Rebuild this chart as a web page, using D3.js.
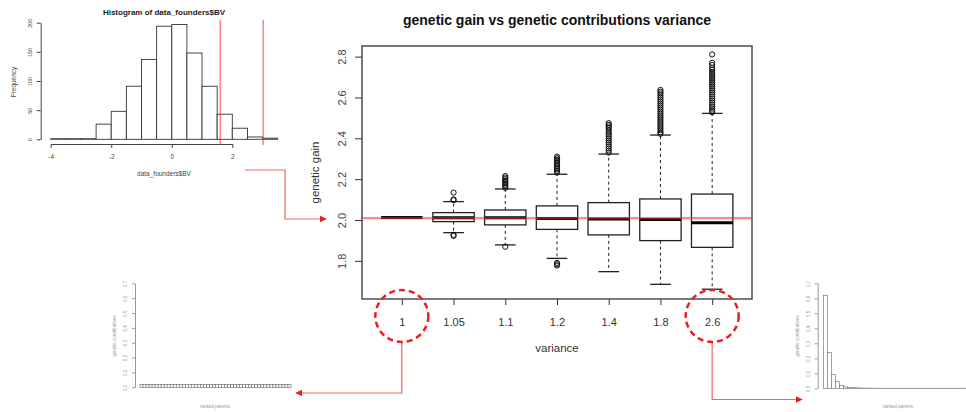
<!DOCTYPE html>
<meta charset="utf-8">
<html>
<head>
<script src="https://d3js.org/d3.v7.min.js" charset="utf-8"></script>
<style type="text/css">
  body { margin: 0; background: #fff; }
  svg text { font-family: "Liberation Sans", Arial, sans-serif; }
</style>
</head>
<body>
<div id="chart"></div>
<script type="text/javascript">

// ---- main boxplot: genetic gain by variance of genetic contributions ----
var variances = ["1", "1.05", "1.1", "1.2", "1.4", "1.8", "2.6"];
var q1s      = [2.012, 1.992, 1.976, 1.954, 1.927, 1.899, 1.866];
var medians  = [2.012, 2.011, 2.011, 2.007, 2.005, 2.002, 1.987];
var q3s      = [2.012, 2.036, 2.049, 2.069, 2.085, 2.103, 2.127];
var whiskLo  = [2.012, 1.938, 1.878, 1.812, 1.747, 1.685, 1.661];
var whiskHi  = [2.012, 2.090, 2.152, 2.224, 2.323, 2.416, 2.522];
var outliers = [
  [],
  [2.134, 2.101, 2.097, 1.927, 1.922],
  [2.215, 2.208, 2.200, 2.193, 2.186, 2.179, 2.172, 2.165, 2.158, 1.869],
  [2.310, 2.302, 2.295, 2.288, 2.280, 2.272, 2.264, 2.256, 2.248, 2.240, 2.232, 1.790, 1.783, 1.777],
  [2.474, 2.466, 2.458, 2.450, 2.440, 2.430, 2.420, 2.410, 2.400, 2.390, 2.380, 2.370, 2.360, 2.350, 2.340, 2.330],
  [2.637, 2.628, 2.620, 2.610, 2.600, 2.590, 2.580, 2.570, 2.560, 2.550, 2.540, 2.530, 2.520, 2.510,
   2.500, 2.490, 2.480, 2.470, 2.460, 2.450, 2.440, 2.430, 2.422],
  [2.811, 2.770, 2.759, 2.744, 2.735, 2.725, 2.715, 2.705, 2.695, 2.685, 2.675, 2.665, 2.655, 2.645,
   2.635, 2.625, 2.615, 2.605, 2.595, 2.585, 2.575, 2.565, 2.555, 2.545, 2.535, 2.528]
];
var yTicks = [1.8, 2.0, 2.2, 2.4, 2.6, 2.8];
var refGain = 2.009;

// ---- histogram of founders' breeding values ----
var histBreaks = [-4, -3.5, -3, -2.5, -2, -1.5, -1, -0.5, 0, 0.5, 1, 1.5, 2, 2.5, 3, 3.5];
var histCounts = [1, 1, 1, 26, 48, 91, 137, 194, 197, 148, 91, 43, 19, 4, 2];
var histXTicks = [-4, -2, 0, 2];
var histYTicks = [0, 50, 100, 150, 200];
var histCutoffs = [1.6, 3.02];

// ---- genetic contributions of ranked parents ----
var contribFlat = [0.02, 0.02, 0.02, 0.02, 0.02, 0.02, 0.02, 0.02, 0.02, 0.02,
                   0.02, 0.02, 0.02, 0.02, 0.02, 0.02, 0.02, 0.02, 0.02, 0.02,
                   0.02, 0.02, 0.02, 0.02, 0.02, 0.02, 0.02, 0.02, 0.02, 0.02,
                   0.02, 0.02, 0.02, 0.02, 0.02, 0.02, 0.02, 0.02, 0.02, 0.02,
                   0.02, 0.02, 0.02, 0.02, 0.02, 0.02, 0.02, 0.02, 0.02, 0.02];
var contribSkew = [0.62, 0.24, 0.093, 0.044, 0.02, 0.01, 0.006, 0.004, 0.003, 0.002,
                   0.001, 0.001, 0.001, 0, 0, 0, 0, 0, 0, 0,
                   0, 0, 0, 0, 0, 0, 0, 0, 0, 0,
                   0, 0, 0, 0, 0, 0, 0, 0, 0, 0];
var contribTicks = [0, 0.1, 0.2, 0.3, 0.4, 0.5, 0.6, 0.7];

var width = 966, height = 412;
var red = "#ee1c1c";

var svg = d3.select("#chart").append("svg")
    .attr("width", width)
    .attr("height", height);

svg.append("defs").append("marker")
    .attr("id", "arrow")
    .attr("viewBox", "0 0 10 10")
    .attr("refX", 9).attr("refY", 5)
    .attr("markerWidth", 7).attr("markerHeight", 7)
    .attr("markerUnits", "userSpaceOnUse")
    .attr("orient", "auto")
  .append("path")
    .attr("d", "M0,0 L10,5 L0,10 z")
    .attr("fill", red);

// ================= main boxplot =================
var box = { left: 362, right: 752, top: 46, bottom: 299 };

var x = d3.scalePoint()
    .domain(variances)
    .range([box.left, box.right])
    .padding(0.77);

var y = d3.scaleLinear()
    .domain([1.6131, 2.852])
    .range([box.bottom, box.top]);

var boxW = x.step() * 0.8;

var main = svg.append("g");

var xAxis = main.append("g")
    .attr("transform", "translate(0," + box.bottom + ")")
    .call(d3.axisBottom(x).tickSize(6).tickSizeOuter(0));
xAxis.select(".domain").remove();
xAxis.selectAll("line").attr("stroke", "#333");
xAxis.selectAll("text")
    .attr("y", 26.5).attr("dy", 0)
    .attr("fill", "#333")
    .style("font-size", "11px");

var yAxis = main.append("g")
    .attr("transform", "translate(" + box.left + ",0)")
    .call(d3.axisLeft(y).tickValues(yTicks).tickFormat(d3.format(".1f")).tickSize(7));
yAxis.select(".domain").remove();
yAxis.selectAll("line").attr("stroke", "#333");
yAxis.selectAll("text")
    .attr("x", 0).attr("dy", 0)
    .attr("text-anchor", "middle")
    .attr("transform", "translate(-16,0) rotate(-90)")
    .attr("fill", "#444")
    .style("font-size", "11px");

var groups = main.selectAll(".bx")
    .data(variances)
    .enter().append("g")
    .attr("class", "bx");

// whiskers (dashed)
groups.append("line")
    .attr("x1", function(d) { return x(d); })
    .attr("x2", function(d) { return x(d); })
    .attr("y1", function(d, i) { return y(q3s[i]); })
    .attr("y2", function(d, i) { return y(whiskHi[i]); })
    .attr("stroke", "#222").attr("stroke-dasharray", "3,3");
groups.append("line")
    .attr("x1", function(d) { return x(d); })
    .attr("x2", function(d) { return x(d); })
    .attr("y1", function(d, i) { return y(q1s[i]); })
    .attr("y2", function(d, i) { return y(whiskLo[i]); })
    .attr("stroke", "#222").attr("stroke-dasharray", "3,3");

// staples
[whiskHi, whiskLo].forEach(function(arr) {
    groups.append("line")
        .attr("x1", function(d) { return x(d) - boxW / 4; })
        .attr("x2", function(d) { return x(d) + boxW / 4; })
        .attr("y1", function(d, i) { return y(arr[i]); })
        .attr("y2", function(d, i) { return y(arr[i]); })
        .attr("stroke", "#222").attr("stroke-width", 1.3);
});

// boxes
groups.append("rect")
    .attr("x", function(d) { return x(d) - boxW / 2; })
    .attr("y", function(d, i) { return y(q3s[i]); })
    .attr("width", boxW)
    .attr("height", function(d, i) { return y(q1s[i]) - y(q3s[i]); })
    .attr("fill", "#fff")
    .attr("stroke", "#222").attr("stroke-width", 1.3);

// medians
groups.append("line")
    .attr("x1", function(d) { return x(d) - boxW / 2; })
    .attr("x2", function(d) { return x(d) + boxW / 2; })
    .attr("y1", function(d, i) { return y(medians[i]); })
    .attr("y2", function(d, i) { return y(medians[i]); })
    .attr("stroke", "#000").attr("stroke-width", 3);

// outliers
groups.each(function(d, i) {
    d3.select(this).selectAll("circle")
        .data(outliers[i])
        .enter().append("circle")
        .attr("cx", x(d))
        .attr("cy", function(v) { return y(v); })
        .attr("r", 2.6)
        .attr("fill", "none")
        .attr("stroke", "#111").attr("stroke-width", 1);
});

// frame
main.append("rect")
    .attr("x", box.left).attr("y", box.top)
    .attr("width", box.right - box.left)
    .attr("height", box.bottom - box.top)
    .attr("fill", "none")
    .attr("stroke", "#333").attr("stroke-width", 1.3);

// reference line
main.append("line")
    .attr("x1", box.left).attr("x2", box.right)
    .attr("y1", y(refGain)).attr("y2", y(refGain))
    .attr("stroke", "rgba(255,40,40,0.55)").attr("stroke-width", 2.2);

main.append("text")
    .attr("x", 557).attr("y", 25)
    .attr("text-anchor", "middle")
    .style("font-size", "14px").style("font-weight", "bold")
    .attr("fill", "#111")
    .text("genetic gain vs genetic contributions variance");

main.append("text")
    .attr("x", 557).attr("y", 352)
    .attr("text-anchor", "middle")
    .style("font-size", "11.5px")
    .attr("fill", "#333")
    .text("variance");

main.append("text")
    .attr("transform", "translate(319," + ((box.top + box.bottom) / 2) + ") rotate(-90)")
    .attr("text-anchor", "middle")
    .style("font-size", "11.5px")
    .attr("fill", "#333")
    .text("genetic gain");

// ================= histogram (top left) =================
var hx = d3.scaleLinear().domain([-4, 2]).range([50.7, 232.3]);
var hy = d3.scaleLinear().domain([0, 200]).range([139.3, 22.7]);
var hist = svg.append("g");

hist.selectAll("rect")
    .data(histCounts)
    .enter().append("rect")
    .attr("x", function(d, i) { return hx(histBreaks[i]); })
    .attr("width", function(d, i) { return hx(histBreaks[i + 1]) - hx(histBreaks[i]); })
    .attr("y", function(d) { return hy(d); })
    .attr("height", function(d) { return hy(0) - hy(d); })
    .attr("fill", "#fff")
    .attr("stroke", "#333").attr("stroke-width", 0.9);

var hxAxis = hist.append("g")
    .attr("transform", "translate(0,144)")
    .call(d3.axisBottom(hx).tickValues(histXTicks)
        .tickFormat(function(d) { return String(d); })
        .tickSize(4).tickSizeOuter(0));
hxAxis.select(".domain").attr("stroke", "#444");
hxAxis.selectAll("line").attr("stroke", "#444");
hxAxis.selectAll("text")
    .attr("y", 14.5).attr("dy", 0)
    .attr("fill", "#444")
    .style("font-size", "6.5px");

var hyAxis = hist.append("g")
    .attr("transform", "translate(40.7,0)")
    .call(d3.axisLeft(hy).tickValues(histYTicks).tickSize(4).tickSizeOuter(0));
hyAxis.select(".domain").attr("stroke", "#444");
hyAxis.selectAll("line").attr("stroke", "#444");
hyAxis.selectAll("text")
    .attr("x", 0).attr("dy", 0)
    .attr("text-anchor", "middle")
    .attr("transform", "translate(-9,0) rotate(-90)")
    .attr("fill", "#444")
    .style("font-size", "5.5px");

hist.selectAll(".cut")
    .data(histCutoffs)
    .enter().append("line")
    .attr("x1", function(d) { return hx(d); })
    .attr("x2", function(d) { return hx(d); })
    .attr("y1", 20).attr("y2", 145)
    .attr("stroke", "rgba(255,50,50,0.7)").attr("stroke-width", 1.3);

hist.append("text")
    .attr("x", 164).attr("y", 15)
    .attr("text-anchor", "middle")
    .style("font-size", "8px").style("font-weight", "bold")
    .attr("fill", "#222")
    .text("Histogram of data_founders$BV");

hist.append("text")
    .attr("x", 164).attr("y", 175.5)
    .attr("text-anchor", "middle")
    .style("font-size", "6.5px")
    .attr("fill", "#444")
    .text("data_founders$BV");

hist.append("text")
    .attr("transform", "translate(16,82) rotate(-90)")
    .attr("text-anchor", "middle")
    .style("font-size", "6.5px")
    .attr("fill", "#444")
    .text("Frequency");

// ================= contributions barplots (bottom) =================
function contribPlot(values, axisX, x0, barW, y0) {
    var g = svg.append("g");
    var cy = d3.scaleLinear().domain([0, 0.7]).range([y0, 283.3]);
    var cx = d3.scaleBand()
        .domain(d3.range(values.length))
        .range([x0, x0 + barW * values.length])
        .paddingInner(0);

    // zero-height bars still show as a flat outline, like R's barplot
    g.selectAll("rect")
        .data(values)
        .enter().append("rect")
        .attr("x", function(d, i) { return cx(i); })
        .attr("width", cx.bandwidth())
        .attr("y", function(d) { return cy(d) - (d === 0 ? 0.05 : 0); })
        .attr("height", function(d) { return Math.max(cy(0) - cy(d), 0.05); })
        .attr("fill", "#fff")
        .attr("stroke", "#666").attr("stroke-width", 0.6);

    var ax = g.append("g")
        .attr("transform", "translate(" + axisX + ",0)")
        .call(d3.axisLeft(cy).tickValues(contribTicks).tickFormat(d3.format(".1f")).tickSize(3).tickSizeOuter(0));
    ax.select(".domain").attr("stroke", "#999");
    ax.selectAll("line").attr("stroke", "#999");
    ax.selectAll("text")
        .attr("x", 0).attr("dy", 0)
        .attr("text-anchor", "middle")
        .attr("transform", "translate(-8,0) rotate(-90)")
        .attr("fill", "#999")
        .style("font-size", "4.5px");

    g.append("text")
        .attr("transform", "translate(" + (axisX - 19) + ",336) rotate(-90)")
        .attr("text-anchor", "middle")
        .style("font-size", "4.5px")
        .attr("fill", "#999")
        .text("genetic contributions");

    return g;
}

var leftPlot = contribPlot(contribFlat, 135, 140, 3.02, 387.3);
leftPlot.append("text")
    .attr("x", 215).attr("y", 408)
    .attr("text-anchor", "middle")
    .style("font-size", "4.5px")
    .attr("fill", "#999")
    .text("ranked parents");

var rightPlot = contribPlot(contribSkew, 817.7, 823.3, 4, 388.3);
rightPlot.append("text")
    .attr("x", 898).attr("y", 408)
    .attr("text-anchor", "middle")
    .style("font-size", "4.5px")
    .attr("fill", "#999")
    .text("ranked parents");

// ================= red annotations =================
var ann = svg.append("g");

ann.append("path")
    .attr("d", "M245,170 H285 V219 H326")
    .attr("fill", "none")
    .attr("stroke", "rgba(240,60,60,0.8)").attr("stroke-width", 1.2)
    .attr("marker-end", "url(#arrow)");

ann.append("path")
    .attr("d", "M" + x("1") + ",342 V393 H296")
    .attr("fill", "none")
    .attr("stroke", "rgba(240,60,60,0.8)").attr("stroke-width", 1.2)
    .attr("marker-end", "url(#arrow)");

ann.append("path")
    .attr("d", "M" + x("2.6") + ",342 V399.5 H802")
    .attr("fill", "none")
    .attr("stroke", "rgba(240,60,60,0.8)").attr("stroke-width", 1.2)
    .attr("marker-end", "url(#arrow)");

ann.selectAll("ellipse")
    .data(["1", "2.6"])
    .enter().append("ellipse")
    .attr("cx", function(d) { return x(d); })
    .attr("cy", 316)
    .attr("rx", 26.5).attr("ry", 26)
    .attr("fill", "none")
    .attr("stroke", red).attr("stroke-width", 2.5)
    .attr("stroke-dasharray", "6,4");

</script>
</body>
</html>
